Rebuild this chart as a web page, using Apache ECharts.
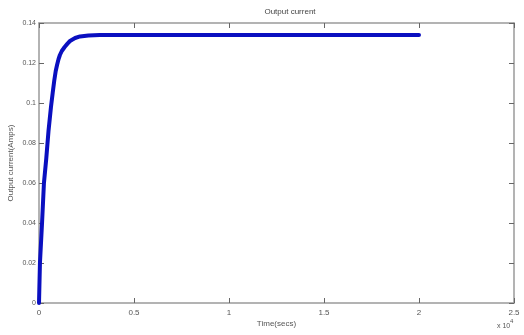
<!DOCTYPE html>
<html>
<head>
<meta charset="utf-8">
<script src="https://cdn.jsdelivr.net/npm/echarts@6/dist/echarts.min.js"></script>
<style>
  html, body { margin: 0; padding: 0; background: #fff; }
  #main { width: 524px; height: 335px; }
</style>
</head>
<body>
<div id="main"></div>
<script>
// time axis (x 10^4 secs) and current (Amps)
const timeValues = [0, 0.005, 0.016, 0.026, 0.038, 0.05, 0.063, 0.072, 0.08, 0.088, 0.095, 0.103, 0.11, 0.12, 0.135, 0.15, 0.163, 0.19, 0.216, 0.26, 0.32, 0.5, 1.0, 1.5, 2.0]
const currentValues = [0, 0.02, 0.04, 0.06, 0.072, 0.086, 0.098, 0.105, 0.111, 0.116, 0.119, 0.122, 0.124, 0.126, 0.128, 0.1297, 0.131, 0.1325, 0.1333, 0.1338, 0.134, 0.134, 0.134, 0.134, 0.134]
const xTicks = { min: 0, max: 2.5, interval: 0.5 }
const yTicks = { min: 0, max: 0.14, interval: 0.02 }

const font = '"Liberation Sans Narrow", "Liberation Sans", sans-serif'
const axisGrey = '#9a9a9a'
const labelGrey = '#555'

const seriesData = timeValues.map((t, i) => [t, currentValues[i]])

const myChart = echarts.init(document.getElementById('main'))

const baseX = {
  type: 'value',
  min: xTicks.min,
  max: xTicks.max,
  interval: xTicks.interval,
  axisLine: { show: true, onZero: false, lineStyle: { color: axisGrey, width: 1.5 } },
  axisTick: { show: true, inside: true, length: 5, lineStyle: { color: '#666' } },
  splitLine: { show: false },
}
const baseY = {
  type: 'value',
  min: yTicks.min,
  max: yTicks.max,
  interval: yTicks.interval,
  axisLine: { show: true, onZero: false, lineStyle: { color: axisGrey, width: 1.5 } },
  axisTick: { show: true, inside: true, length: 5, lineStyle: { color: '#666' } },
  splitLine: { show: false },
}

const option = {
  animation: false,
  backgroundColor: '#fff',
  title: {
    text: 'Output current',
    left: 285,
    top: 3,
    textAlign: 'center',
    textStyle: { fontFamily: font, fontSize: 8, fontWeight: 'normal', color: '#444' },
  },
  grid: { left: 39, right: 10, top: 23, bottom: 32, containLabel: false, outerBoundsMode: 'none' },
  xAxis: [
    Object.assign({}, baseX, {
      position: 'bottom',
      name: 'Time(secs)',
      nameLocation: 'middle',
      nameGap: 17,
      nameMoveOverlap: false,
      nameTextStyle: { fontFamily: font, fontSize: 8, color: labelGrey },
      axisLabel: { fontFamily: font, fontSize: 8, color: labelGrey, margin: 6 },
    }),
    Object.assign({}, baseX, { position: 'top', axisLabel: { show: false } }),
  ],
  yAxis: [
    Object.assign({}, baseY, {
      position: 'left',
      name: 'Output current(Amps)',
      nameLocation: 'middle',
      nameGap: 24,
      nameMoveOverlap: false,
      nameTextStyle: { fontFamily: font, fontSize: 8, color: labelGrey },
      axisLabel: { fontFamily: font, fontSize: 7, color: labelGrey, margin: 3 },
    }),
    Object.assign({}, baseY, { position: 'right', axisLabel: { show: false } }),
  ],
  graphic: [
    {
      type: 'text',
      left: 497,
      top: 323,
      style: { text: 'x 10', fontFamily: font, fontSize: 7, fill: labelGrey },
    },
    {
      type: 'text',
      left: 510,
      top: 318,
      style: { text: '4', fontFamily: font, fontSize: 6, fill: labelGrey },
    },
  ],
  series: [
    {
      type: 'line',
      data: seriesData,
      smooth: false,
      showSymbol: false,
      lineStyle: { color: '#0a0fc0', width: 4, join: 'round', cap: 'round' },
    },
  ],
}

myChart.setOption(option)
</script>
</body>
</html>
